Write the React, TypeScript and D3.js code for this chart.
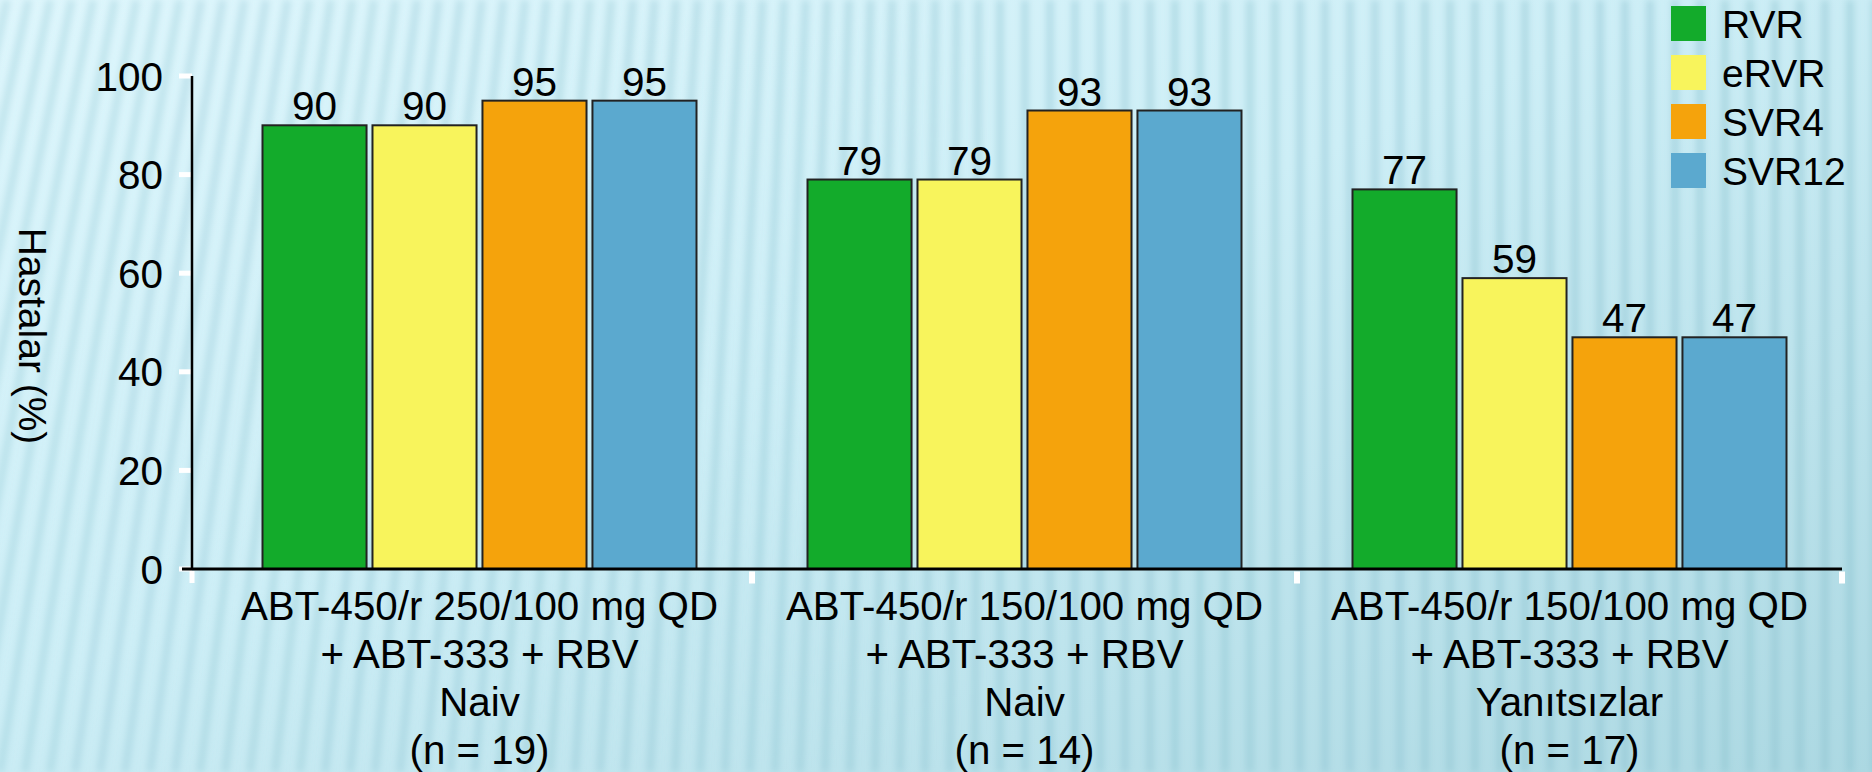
import React from "react";
import * as d3 from "d3";

const W = 1872;
const H = 772;

const groups = ["g1", "g2", "g3"];
const categoryLines = [
  ["ABT-450/r 250/100 mg QD", "+ ABT-333 + RBV", "Naiv", "(n = 19)"],
  ["ABT-450/r 150/100 mg QD", "+ ABT-333 + RBV", "Naiv", "(n = 14)"],
  ["ABT-450/r 150/100 mg QD", "+ ABT-333 + RBV", "Yanıtsızlar", "(n = 17)"],
];
const seriesNames = ["RVR", "eRVR", "SVR4", "SVR12"];
const rvr = [90, 79, 77];
const ervr = [90, 79, 59];
const svr4 = [95, 93, 47];
const svr12 = [95, 93, 47];
const seriesValues = [rvr, ervr, svr4, svr12];
const seriesColors = ["#13AB2B", "#F8F45C", "#F5A30C", "#5BA9CF"];
const yTicks = [0, 20, 40, 60, 80, 100];
const yTitle = "Hastalar (%)";

const FONT = "'Liberation Sans', Arial, Helvetica, sans-serif";

export default function App() {
  const axisX = 192;
  const x0 = d3.scaleBand<string>().domain(groups).range([207, 1842]).paddingInner(0).paddingOuter(0);
  const step = x0.bandwidth();
  const groupW = 434;
  const x1 = d3
    .scaleBand<string>()
    .domain(seriesNames)
    .range([(step - groupW) / 2, (step + groupW) / 2])
    .paddingInner(0.054)
    .paddingOuter(0);
  const y = d3.scaleLinear().domain([0, 100]).range([569, 76]);

  // decorative stripes of the background
  const stripes: { d: string; w: number; o: number }[] = [];
  for (let xs = -300; xs < W + 60; xs += 25) {
    const tiltTop = Math.max(0, 150 * (1 - (xs + 100) / 1100));
    const tiltMid = tiltTop * 0.45;
    const d = `M${xs + tiltTop},0 Q${xs + tiltMid},${H / 2} ${xs},${H}`;
    stripes.push({ d, w: 8, o: 0.3 + 0.12 * Math.min(1, Math.max(0, xs / W)) });
  }

  const legendX = 1671;
  const legendY = d3.scaleBand<string>().domain(seriesNames).range([6, 202]);

  const bandEdges = groups.map((g) => (x0(g) as number) + step);

  return (
    <svg
      width={W}
      height={H}
      style={{ position: "fixed", left: 0, top: 0, display: "block" }}
      fontFamily={FONT}
    >
      <defs>
        <linearGradient id="bg" x1="0" y1="0" x2="1" y2="1">
          <stop offset="0" stopColor="#def6fc" />
          <stop offset="0.45" stopColor="#cdeef6" />
          <stop offset="1" stopColor="#acd8e2" />
        </linearGradient>
        <filter id="blur" x="-10%" y="-10%" width="120%" height="120%">
          <feGaussianBlur stdDeviation="3" />
        </filter>
      </defs>
      <rect x={0} y={0} width={W} height={H} fill="url(#bg)" />
      <g filter="url(#blur)">
        {stripes.map((s, i) => (
          <path key={i} d={s.d} stroke="#86bfcd" strokeWidth={s.w} strokeOpacity={s.o} fill="none" />
        ))}
      </g>

      {/* Y axis title */}
      <text
        transform={`translate(32, 336) rotate(90)`}
        textAnchor="middle"
        dominantBaseline="central"
        fontSize={39}
        fill="#000"
      >
        {yTitle}
      </text>

      {/* Y ticks */}
      {yTicks.map((t) => (
        <g key={t}>
          <rect x={179} y={y(t) - 2.5} width={13} height={5} fill="#fff" />
          <text x={163} y={y(t)} dy="0.36em" textAnchor="end" fontSize={40.5} fill="#000">
            {t}
          </text>
        </g>
      ))}

      {/* bars */}
      {groups.map((g, gi) => (
        <g key={g} transform={`translate(${x0(g)},0)`}>
          {seriesNames.map((s, si) => {
            const v = seriesValues[si][gi];
            const bx = x1(s) as number;
            const bw = x1.bandwidth();
            return (
              <g key={s}>
                <rect
                  x={bx}
                  y={y(v)}
                  width={bw}
                  height={y(0) - y(v)}
                  fill={seriesColors[si]}
                  stroke="#222"
                  strokeWidth={2}
                />
                <text x={bx + bw / 2} y={y(v) - 5} textAnchor="middle" fontSize={40.5} fill="#000">
                  {v}
                </text>
              </g>
            );
          })}
        </g>
      ))}

      {/* axes lines */}
      <line x1={axisX} x2={axisX} y1={y(100)} y2={y(0)} stroke="#000" strokeWidth={2.5} />
      <line x1={182} x2={bandEdges[bandEdges.length - 1]} y1={y(0)} y2={y(0)} stroke="#000" strokeWidth={3} />
      <rect x={axisX - 2.5} y={y(0) + 2} width={5} height={12} fill="#fff" />
      {bandEdges.map((e, i) => (
        <rect key={i} x={e - 3} y={y(0) + 2.5} width={6} height={12} fill="#fff" />
      ))}

      {/* category labels */}
      {groups.map((g, gi) => (
        <text
          key={g}
          x={(x0(g) as number) + step / 2}
          textAnchor="middle"
          fontSize={40.3}
          fill="#000"
        >
          {categoryLines[gi].map((line, li) => (
            <tspan key={li} x={(x0(g) as number) + step / 2} y={620 + li * 48}>
              {line}
            </tspan>
          ))}
        </text>
      ))}

      {/* legend */}
      {seriesNames.map((s, si) => {
        const ly = legendY(s) as number;
        return (
          <g key={s}>
            <rect x={legendX} y={ly} width={35} height={35} fill={seriesColors[si]} />
            <text x={legendX + 51} y={ly + 17.5} dy="0.36em" fontSize={39} fill="#000">
              {s}
            </text>
          </g>
        );
      })}
    </svg>
  );
}
